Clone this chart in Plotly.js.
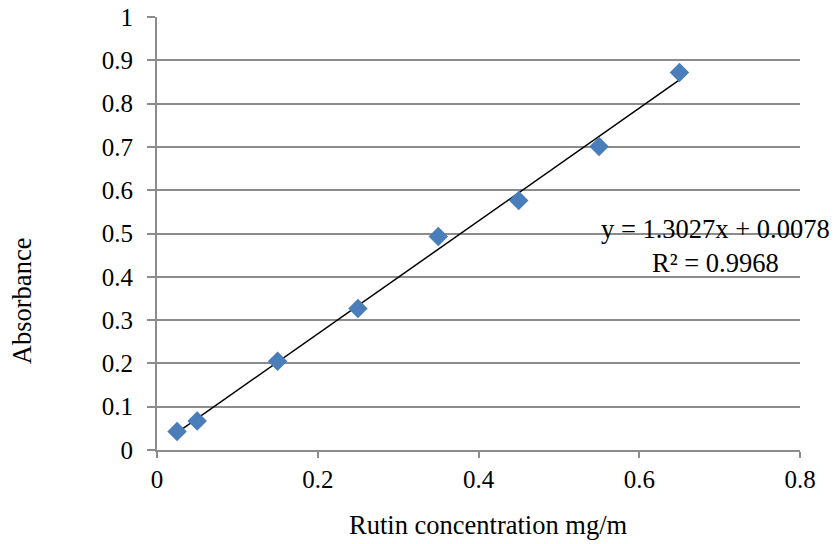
<!DOCTYPE html>
<html>
<head>
<meta charset="utf-8">
<script src="https://cdn.plot.ly/plotly-3.0.1.min.js"></script>
<style>html,body{margin:0;padding:0;background:#fff;}#chart{width:836px;height:544px;}</style>
</head>
<body>
<div id="chart"></div>
<script>
const concentration = [0.025, 0.05, 0.15, 0.25, 0.35, 0.45, 0.55, 0.65];
const absorbance = [0.043, 0.067, 0.205, 0.327, 0.493, 0.576, 0.701, 0.872];
const slope = 1.3027;
const intercept = 0.0078;
const equationText = "y = 1.3027x + 0.0078<br>R² = 0.9968";
const xTitle = "Rutin concentration mg/m";
const yTitle = "Absorbance";
const xTicks = [0, 0.2, 0.4, 0.6, 0.8];
const xTickLabels = ["0", "0.2", "0.4", "0.6", "0.8"];
const yTicks = [0, 0.1, 0.2, 0.3, 0.4, 0.5, 0.6, 0.7, 0.8, 0.9, 1];
const yTickLabels = ["0", "0.1", "0.2", "0.3", "0.4", "0.5", "0.6", "0.7", "0.8", "0.9", "1"];

const xMin = Math.min(...concentration), xMax = Math.max(...concentration);
const trendX = [xMin, xMax];
const trendY = trendX.map(x => slope * x + intercept);

const fam = "'Liberation Serif', 'Times New Roman', serif";
const tickFont = {family: fam, size: 25, color: "#000"};
const titleFont = {family: fam, size: 26.5, color: "#000"};
const data = [
  {x: trendX, y: trendY, type: "scatter", mode: "lines", line: {color: "#000", width: 1.5}, hoverinfo: "skip"},
  {x: concentration, y: absorbance, type: "scatter", mode: "markers",
   marker: {symbol: "diamond", size: 15, color: "#4a7ebb", line: {width: 0}}}
];
const layout = {
  width: 836, height: 544,
  margin: {l: 157, r: 36, t: 17, b: 94},
  paper_bgcolor: "#fff", plot_bgcolor: "#fff",
  showlegend: false,
  font: tickFont,
  xaxis: {
    range: [0, 0.8], tickvals: xTicks, ticktext: xTickLabels,
    showgrid: false, zeroline: false, showline: true, linecolor: "#8c8c8c", linewidth: 2,
    ticks: "outside", ticklen: 6, tickcolor: "#8c8c8c", tickwidth: 2,
    tickfont: tickFont
  },
  yaxis: {
    range: [0, 1], tickvals: yTicks, ticktext: yTickLabels,
    showgrid: true, gridcolor: "#8c8c8c", gridwidth: 2,
    zeroline: false, showline: true, linecolor: "#8c8c8c", linewidth: 2,
    ticks: "outside", ticklen: 8, tickcolor: "#8c8c8c", tickwidth: 2,
    ticklabelstandoff: 9,
    tickfont: tickFont
  },
  annotations: [
    {xref: "paper", yref: "paper", x: 0.869, y: 0.471, xanchor: "center", yanchor: "middle",
     text: equationText, showarrow: false, align: "center", font: titleFont},
    {xref: "paper", yref: "paper", x: 0.516, y: -0.173, xanchor: "center", yanchor: "middle",
     text: xTitle, showarrow: false, font: titleFont},
    {xref: "paper", yref: "paper", x: -0.21, y: 0.346, xanchor: "center", yanchor: "middle",
     text: yTitle, showarrow: false, textangle: -90, font: titleFont}
  ]
};
Plotly.newPlot("chart", data, layout, {displayModeBar: false, staticPlot: true});
</script>
</body>
</html>
